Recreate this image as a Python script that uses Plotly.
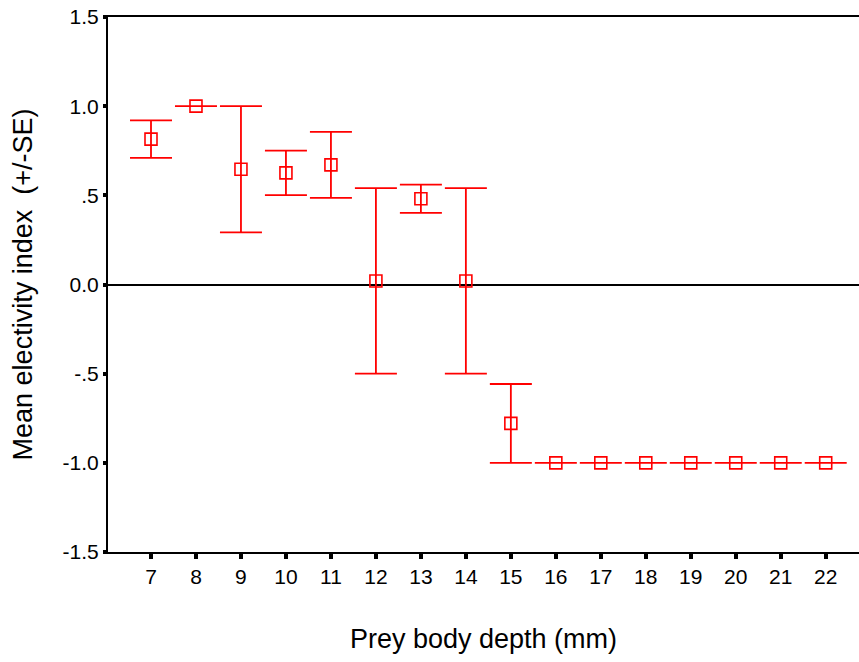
import plotly.graph_objects as go

depth = [7, 8, 9, 10, 11, 12, 13, 14, 15, 16, 17, 18, 19, 20, 21, 22]
mean_idx = [0.815, 1.0, 0.646, 0.626, 0.671, 0.02, 0.481, 0.02, -0.779,
            -1.0, -1.0, -1.0, -1.0, -1.0, -1.0, -1.0]
se = [0.105, 0.0, 0.354, 0.125, 0.185, 0.52, 0.079, 0.52, 0.221,
      0.0, 0.0, 0.0, 0.0, 0.0, 0.0, 0.0]
ytick_vals = [-1.5, -1.0, -0.5, 0.0, 0.5, 1.0, 1.5]
ytick_text = ["-1.5", "-1.0", "-.5", "0.0", ".5", "1.0", "1.5"]

FONT = "Liberation Sans, Arial, sans-serif"

fig = go.Figure()
fig.add_trace(go.Scatter(
    x=depth, y=mean_idx, mode="markers",
    marker=dict(symbol="square-open", size=12, color="#ff0000",
                line=dict(width=1.6, color="#ff0000")),
    error_y=dict(type="data", array=se, visible=True, color="#ff0000",
                 thickness=1.8, width=21),
    showlegend=False,
))

fig.update_layout(
    width=859, height=662,
    margin=dict(l=108, r=0, t=17, b=110),
    paper_bgcolor="white", plot_bgcolor="white",
    font=dict(family=FONT, color="black", size=21),
    xaxis=dict(
        range=[6.044, 22.74], tickmode="array", tickvals=depth,
        ticktext=[str(d) for d in depth],
        showgrid=False, zeroline=False,
        showline=True, linecolor="black", linewidth=2, mirror=True,
        ticks="outside", ticklen=5, tickwidth=4, tickcolor="black",
        tickfont=dict(size=21),
        title=dict(text="Prey body depth (mm)", font=dict(size=27), standoff=42),
    ),
    yaxis=dict(
        range=[-1.5, 1.5], tickmode="array", tickvals=ytick_vals,
        ticktext=ytick_text,
        showgrid=False, zeroline=True, zerolinecolor="black", zerolinewidth=1.6,
        showline=True, linecolor="black", linewidth=2,
        ticks="outside", ticklen=3, tickwidth=4, tickcolor="black",
        tickfont=dict(size=21),
        title=dict(text="Mean electivity index\u00a0 (+/-SE)", font=dict(size=27), standoff=22),
    ),
)

fig.write_html("out.html")
